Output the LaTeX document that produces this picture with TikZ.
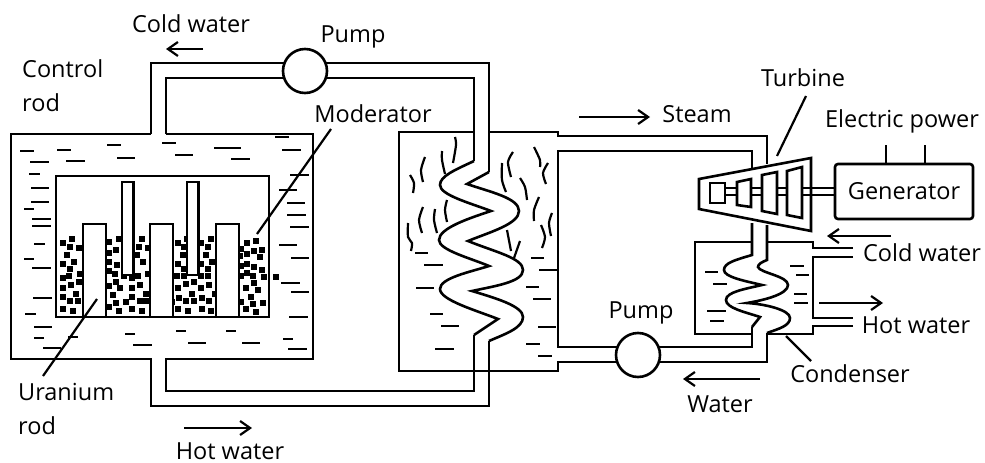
\documentclass[tikz,border=0pt]{standalone}
\usepackage{fontspec}
\setmainfont{Open Sans}
\usetikzlibrary{arrows.meta}
\tikzset{
	pipe/.style={black, line width=2.6pt, line join=miter},
	thin line/.style={black, line width=2.2pt},
	flow/.style={black, line width=2.2pt, -{Straight Barb[length=10pt,width=14pt,line width=2.2pt]}},
	label text/.style={inner sep=0pt, font=\fontsize{23.5}{34}\selectfont, align=left},
	pump/.style={circle, draw, line width=2.6pt, fill=white, minimum size=44pt, inner sep=0pt}
}
\begin{document}
\begin{tikzpicture}[x=1pt, y=-1pt]
	\useasboundingbox (0,0) rectangle (985,463);
	% moderator grains
	\foreach \x/\y in {63/243,72/239,70/247,79/248,67/255,63/264,74/262,70/269,80/274,69/276,63/278,79/282,71/285,63/288,76/294,63/297,70/301,78/301,63/309,73/311,
		109/242,119/239,142/239,116/250,109/253,139/247,148/248,137/255,109/262,117/265,143/262,148/274,109/271,115/274,132/278,138/276,124/276,109/286,116/282,120/288,132/288,140/285,113/295,146/294,132/297,140/301,146/301,126/302,116/303,109/307,119/311,132/309,142/311,
		178/243,187/239,184/247,201/243,211/239,208/247,183/255,206/255,178/264,184/269,201/264,212/262,208/269,177/276,184/276,201/276,208/276,194/282,186/284,178/288,201/288,209/285,192/294,179/298,186/301,194/301,202/298,209/301,215/294,172/302,178/309,188/311,202/309,211/311,
		247/243,256/241,262/250,254/251,247/254,241/249,240/256,260/257,247/264,254/267,262/270,241/266,247/273,241/276,253/276,264/277,276/277,254/283,246/288,258/290,251/297,241/302,263/303,253/304,246/309,256/312}
		\fill (\x-3,\y-3) rectangle (\x+3,\y+3);
	% reactor
	\draw[pipe] (56,176) rectangle (269,317);
	\foreach \x in {83,150,216}
		\draw[pipe, fill=white] (\x,317) rectangle (\x+23,224);
	\foreach \x in {122,187}
		\draw[pipe, fill=white] (\x,275) rectangle (\x+11.5,182);
	\draw[pipe] (151,134) -- (11,134) -- (11,359) -- (151,359) -- (151,406) -- (489,406) -- (489,341);
	\draw[pipe] (166,134) -- (313,134) -- (313,359) -- (166,359) -- (166,391) -- (474,391) -- (474,335);
	\draw[pipe] (166,134) -- (166,78) -- (474,78) -- (474,161);
	\draw[pipe] (151,134) -- (151,63) -- (489,63) -- (489,172);
	% steam generator
	\draw[pipe] (474,132) -- (399,132) -- (399,371) -- (558,371) -- (558,362) -- (767,362) -- (767,333);
	\draw[pipe] (489,132) -- (558,132) -- (558,136) -- (767,136) -- (767,164);
	\draw[pipe] (752,168) -- (752,151) -- (558,151) -- (558,347) -- (752,347) -- (752,327);
	\draw[pipe] (474,161) .. controls (455,170) and (440,176) .. (440,185) .. controls (440,195) and (470,203) .. (491,211)
		.. controls (470,218) and (439,228) .. (439,240) .. controls (439,250) and (470,258) .. (489,266)
		.. controls (470,272) and (440,278) .. (440,289) .. controls (440,300) and (475,310) .. (498,319) -- (474,335);
	\draw[pipe] (489,172) -- (467,184) .. controls (490,192) and (519,198) .. (519,211) .. controls (519,224) and (490,232) .. (468,241)
		.. controls (495,252) and (523,258) .. (523,270) .. controls (523,282) and (495,286) .. (472,291)
		.. controls (495,298) and (523,306) .. (523,317) .. controls (523,328) and (505,334) .. (489,341);
	% steam
	\foreach \a/\b/\c/\d/\e/\f in {455/137/456/145/453/163,425/157/421/170/423/182,442/151/442/160/445/174,410/175/414/183/413/193,423/207/419/220/422/233,435/209/434/220/437/233,447/200/445/210/447/222,513/152/508/162/511/177,502/163/502/180/506/192,534/147/540/160/540/167,548/163/543/173/546/184,520/178/525/187/527/200,539/197/534/210/534/221,552/213/549/223/551/236,541/225/545/237/542/248}
		\draw[thin line] plot[smooth] coordinates {(\a,\b) (\c,\d) (\e,\f)};
	\draw[thin line] plot[smooth] coordinates {(408,223) (408,237) (412,243) (411,251)};
	\draw[thin line] (507,230) -- (511,251);
	\draw[thin line] (520,241) -- (514,258);
	% water levels
	\foreach \a/\b/\y in {20/34/151,57/71/150,107/121/145,162/176/143,214/241/148,275/289/137,282/301/150,30/49/162,66/85/161,117/135/158,175/193/155,231/250/159,29/40/174,290/309/175,31/49/188,279/297/190,31/49/202,287/305/203,24/34/209,287/306/215,32/51/219,32/51/226,290/309/227,34/45/244,279/297/245,24/34/259,291/309/258,32/51/268,281/300/283,291/309/292,33/52/298,25/36/314,289/308/317,34/52/327,176/186/331,226/236/331,125/135/334,34/44/338,68/78/337,283/293/339,188/206/343,242/260/343,133/152/345,43/61/348,288/307/349,
		415/428/253,424/443/265,416/434/288,430/443/314,441/459/326,435/454/349,531/544/258,539/558/270,526/539/287,533/551/299,538/556/327,526/540/344,538/552/356,
		705/718/272,713/727/284,707/726/311,710/724/321,790/804/266,796/809/275,794/807/294,794/808/303}
		\draw[thin line] (\a,\y) -- (\b,\y);
	% condenser
	\draw[pipe] (752,223) -- (752,255) .. controls (735,260) and (724,263) .. (724,270) .. controls (724,277) and (745,281) .. (762,285)
		.. controls (745,289) and (726,292) .. (726,300) .. controls (726,308) and (745,312) .. (760,317) -- (752,327);
	\draw[pipe] (767,225) -- (767,260) .. controls (762,262) and (758,264) .. (758,267) .. controls (760,273) and (788,276) .. (788,285) .. controls (788,294) and (765,300) .. (747,303)
		.. controls (765,304) and (790,310) .. (790,318) .. controls (790,326) and (778,329) .. (767,333);
	\draw[pipe] (752,242) -- (695,242) -- (695,334) -- (752,334);
	\draw[pipe] (767,242) -- (813,242) -- (813,248) -- (853,248);
	\draw[pipe] (853,257) -- (813,257) -- (813,318) -- (853,318);
	\draw[pipe] (853,326) -- (813,326) -- (813,334) -- (767,334);
	% turbine
	\draw[pipe, fill=white] (699,179) -- (811,158) -- (811,231) -- (699,209) -- cycle;
	\draw[pipe] (710,183) rectangle (725,203);
	\draw[pipe] (737,182) -- (751,179) -- (751,207) -- (737,205) -- cycle;
	\draw[pipe] (762,175) -- (777,172) -- (777,214) -- (762,211) -- cycle;
	\draw[pipe] (787,171) -- (802,167) -- (802,218) -- (787,215) -- cycle;
	\foreach \y in {188,195} {
		\draw[pipe] (725,\y) -- (737,\y);
		\draw[pipe] (751,\y) -- (762,\y);
		\draw[pipe] (777,\y) -- (787,\y);
		\draw[pipe] (802,\y) -- (835,\y);
	}
	% generator
	\node (Generator) at (904,191.5) [draw, line width=2.6pt, rounded corners=3pt, minimum width=138pt, minimum height=55pt, inner sep=0pt, font=\fontsize{23.5}{28}\selectfont] {Generator};
	\node (ElectricPower) at (902,121) [label text] {Electric power};
	\coordinate (WireA) at (886,145);
	\coordinate (WireB) at (925,145);
	\draw[thin line] (WireA) -- (WireA |- Generator.north);
	\draw[thin line] (WireB) -- (WireB |- Generator.north);
	% pumps
	\node (PumpA) at (305,71) [pump] {};
	\node (PumpB) at (638,355) [pump] {};
	\node (PumpALabel) at (353,37) [label text] {Pump};
	\node (PumpBLabel) at (641,313) [label text] {Pump};
	% labels
	\node (ColdTop) at (191,24) [label text] {Cold water};
	\node (ControlRod) at (22,86) [label text, anchor=west] {Control\\rod};
	\node (Moderator) at (373,114) [label text] {Moderator};
	\node (Steam) at (697,114) [label text] {Steam};
	\node (Turbine) at (803,78) [label text] {Turbine};
	\node (ColdRight) at (922,253) [label text] {Cold water};
	\node (HotRight) at (916,325) [label text] {Hot water};
	\node (Condenser) at (850,374) [label text] {Condenser};
	\node (Water) at (720,404) [label text] {Water};
	\node (UraniumRod) at (18,409) [label text, anchor=west] {Uranium\\rod};
	\node (HotBottom) at (230,451) [label text] {Hot water};
	% leaders
	\coordinate (ModeratorTop) at (331,129);
	\coordinate (ModeratorEnd) at (257,234);
	\coordinate (UraniumBottom) at (43,376);
	\coordinate (UraniumEnd) at (97,299);
	\coordinate (TurbineTop) at (806,96);
	\coordinate (TurbineEnd) at (777,156);
	\coordinate (CondenserTop) at (811,361);
	\coordinate (CondenserEnd) at (786,336);
	\draw[thin line] (ModeratorTop) -- (ModeratorEnd);
	\draw[thin line] (UraniumBottom) -- (UraniumEnd);
	\draw[thin line] (TurbineTop) -- (TurbineEnd);
	\draw[thin line] (CondenserTop) -- (CondenserEnd);
	% arrows
	\coordinate (ColdTopA) at (203,49);
	\coordinate (ColdTopB) at (166,49);
	\coordinate (SteamA) at (579,117);
	\coordinate (SteamB) at (650,117);
	\coordinate (HotBottomA) at (184,428);
	\coordinate (HotBottomB) at (252,428);
	\coordinate (WaterA) at (760,379);
	\coordinate (WaterB) at (683,379);
	\coordinate (ColdRightA) at (891,236);
	\coordinate (ColdRightB) at (827,236);
	\coordinate (HotRightA) at (819,303);
	\coordinate (HotRightB) at (883,303);
	\draw[flow] (ColdTopA) -- (ColdTopB);
	\draw[flow] (SteamA) -- (SteamB);
	\draw[flow] (HotBottomA) -- (HotBottomB);
	\draw[flow] (WaterA) -- (WaterB);
	\draw[flow] (ColdRightA) -- (ColdRightB);
	\draw[flow] (HotRightA) -- (HotRightB);
\end{tikzpicture}
\end{document}
